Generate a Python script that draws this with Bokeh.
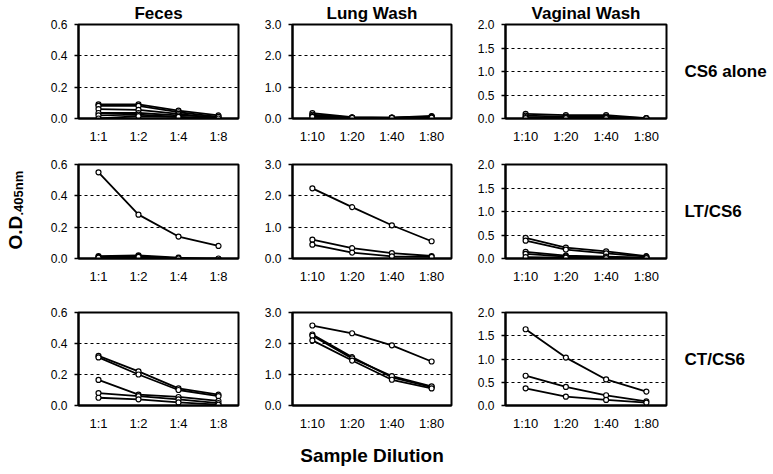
import math
from bokeh.plotting import figure
from bokeh.layouts import column, row
from bokeh.models import Label, Title, FactorRange, Range1d, FixedTicker, NumeralTickFormatter
from bokeh.embed import file_html
from bokeh.resources import INLINE

# ---------------- data ----------------
feces_dilutions = ["1:1", "1:2", "1:4", "1:8"]
wash_dilutions = ["1:10", "1:20", "1:40", "1:80"]
sample_titles = ["Feces", "Lung Wash", "Vaginal Wash"]
group_labels = ["CS6 alone", "LT/CS6", "CT/CS6"]
x_title = "Sample Dilution"
y_max = [0.6, 3.0, 2.0]
y_ticks = [[0.0, 0.2, 0.4, 0.6], [0.0, 1.0, 2.0, 3.0], [0.0, 0.5, 1.0, 1.5, 2.0]]

feces_cs6 = [
    [0.09, 0.09, 0.05, 0.02],
    [0.08, 0.08, 0.04, 0.01],
    [0.06, 0.055, 0.03, 0.00],
    [0.035, 0.035, 0.02, 0.01],
    [0.02, 0.025, 0.01, -0.02],
    [0.00, 0.015, 0.01, 0.00],
]
lung_cs6 = [
    [0.17, 0.04, 0.03, 0.08],
    [0.12, 0.03, 0.03, 0.06],
    [0.08, 0.03, 0.02, 0.05],
    [0.05, 0.02, 0.02, 0.03],
]
vag_cs6 = [
    [0.10, 0.07, 0.07, 0.01],
    [0.06, 0.04, 0.04, 0.01],
    [0.03, 0.02, 0.02, 0.00],
    [0.01, 0.01, 0.01, 0.00],
]
feces_lt = [
    [0.55, 0.28, 0.14, 0.08],
    [0.015, 0.02, 0.005, -0.005],
    [0.01, 0.015, 0.0, 0.0],
    [0.005, 0.01, 0.0, -0.01],
]
lung_lt = [
    [2.24, 1.64, 1.06, 0.55],
    [0.60, 0.33, 0.17, 0.08],
    [0.44, 0.19, 0.07, 0.05],
]
vag_lt = [
    [0.44, 0.23, 0.15, 0.05],
    [0.38, 0.19, 0.11, 0.04],
    [0.14, 0.06, 0.04, 0.02],
    [0.10, 0.04, 0.03, 0.01],
    [0.03, 0.02, 0.01, 0.01],
]
feces_ct = [
    [0.32, 0.22, 0.11, 0.07],
    [0.31, 0.20, 0.10, 0.06],
    [0.165, 0.07, 0.055, 0.03],
    [0.08, 0.06, 0.04, 0.015],
    [0.05, 0.04, 0.02, 0.005],
]
lung_ct = [
    [2.58, 2.33, 1.94, 1.42],
    [2.29, 1.56, 0.91, 0.59],
    [2.25, 1.52, 0.95, 0.62],
    [2.10, 1.45, 0.83, 0.55],
]
vag_ct = [
    [1.64, 1.03, 0.56, 0.30],
    [0.64, 0.40, 0.22, 0.09],
    [0.37, 0.19, 0.12, 0.06],
]

panels = [
    [feces_cs6, lung_cs6, vag_cs6],
    [feces_lt, lung_lt, vag_lt],
    [feces_ct, lung_ct, vag_ct],
]
dilutions = [feces_dilutions, wash_dilutions, wash_dilutions]

# ---------------- layout ----------------
FONT = "Liberation Sans"
frame_w = [160, 159, 161]
frame_h = [94, 94, 93]
border_l = [40, 32, 30]
border_r = [22, 23, 8]
border_t = [24, 17, 25]
border_b = [29, 29, 66]
LEFT_W, RIGHT_W = 38, 99
GRID_H = sum(border_t) + sum(frame_h) + sum(border_b)


def text_label(text, x, y, size, align="left", baseline="alphabetic", angle=0.0):
    return Label(x=x, y=y, text=text, angle=angle, text_align=align,
                 text_baseline=baseline, text_font=FONT, text_font_style="bold",
                 text_font_size=size, text_color="black")


def strip(width, height):
    s = figure(width=width, height=height, x_range=Range1d(0, width),
               y_range=Range1d(height, 0), min_border=0,
               output_backend="svg", toolbar_location=None, tools="",
               background_fill_color="white", border_fill_color="white")
    s.axis.visible = False
    s.grid.visible = False
    s.outline_line_color = None
    return s


rows = []
for r in range(3):
    items = []
    for c in range(3):
        p = figure(
            x_range=FactorRange(factors=dilutions[c], range_padding=0),
            y_range=Range1d(0, y_max[c]),
            frame_width=frame_w[c], frame_height=frame_h[r],
            min_border_left=border_l[c], min_border_right=border_r[c],
            min_border_top=border_t[r], min_border_bottom=border_b[r],
            output_backend="svg", toolbar_location=None, tools="",
            background_fill_color="white", border_fill_color="white",
        )
        p.outline_line_color = "black"
        p.outline_line_width = 2
        p.xgrid.visible = False
        p.ygrid.grid_line_color = "black"
        p.ygrid.grid_line_dash = "3 3"
        p.ygrid.grid_line_width = 1
        p.yaxis.ticker = FixedTicker(ticks=y_ticks[c])
        p.yaxis.formatter = NumeralTickFormatter(format="0.0")
        for ax in (p.xaxis[0], p.yaxis[0]):
            ax.axis_line_color = "black"
            ax.axis_line_width = 2
            ax.major_tick_in = 0
            ax.minor_tick_in = 0
            ax.minor_tick_out = 0
            ax.major_label_text_font = FONT
            ax.major_label_text_color = "black"
        p.yaxis.major_tick_out = 4
        p.yaxis.major_tick_line_width = 1.5
        p.yaxis.major_label_standoff = 7
        p.yaxis.major_label_text_font_size = "12px"
        p.xaxis.major_tick_out = 0
        p.xaxis.major_label_standoff = 10
        p.xaxis.major_label_text_font_size = "13px"

        for series in panels[r][c]:
            p.line(dilutions[c], series, line_color="black", line_width=1.8)
            p.scatter(dilutions[c], series, marker="circle", size=5,
                      fill_color="white", line_color="black", line_width=1.2)

        if r == 0:
            p.add_layout(Title(text=sample_titles[c], align="center", standoff=3,
                               text_font=FONT, text_font_style="bold",
                               text_font_size="17px", text_color="black"), "above")
        if r == 2 and c == 1:
            p.xaxis.axis_label = x_title
            p.xaxis.axis_label_text_font = FONT
            p.xaxis.axis_label_text_font_style = "bold"
            p.xaxis.axis_label_text_font_size = "19px"
            p.xaxis.axis_label_text_color = "black"
            p.xaxis.axis_label_standoff = 11
        items.append(p)
    rows.append(row(*items))

# text strips (frames cover the whole strip, so texts are not clipped)
left = strip(LEFT_W, GRID_H)
left.add_layout(text_label("O.D", 15, 249, "19px", angle=math.pi / 2))
left.add_layout(text_label(".405nm", 18, 215, "13px", angle=math.pi / 2))

right = strip(RIGHT_W, GRID_H)
for label, yc in zip(group_labels, [71, 211, 358.5]):
    right.add_layout(text_label(label, 10, yc, "17px", baseline="middle"))

layout = row(left, column(*rows), right)
open("out.html", "w").write(file_html(layout, INLINE))
